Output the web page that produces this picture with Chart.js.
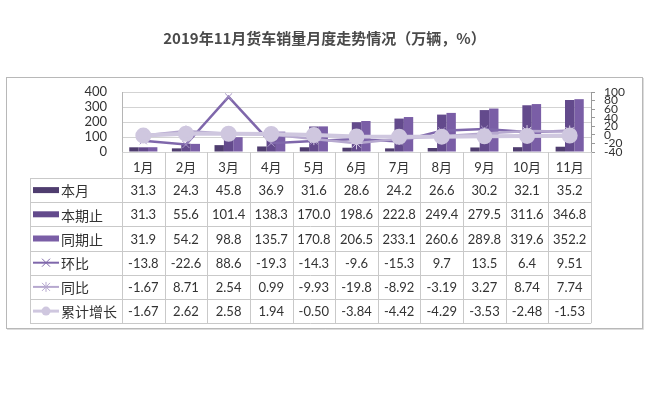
<!DOCTYPE html>
<html>
<head>
<meta charset="utf-8">
<script src="https://cdn.jsdelivr.net/npm/chart.js@4/dist/chart.umd.min.js"></script>
<style>
  body { margin: 0; background: #fff; }
</style>
</head>
<body>
<canvas id="chart" width="649" height="394"></canvas>
<script>
const months = ['1月', '2月', '3月', '4月', '5月', '6月', '7月', '8月', '9月', '10月', '11月'];

// table rows as shown, numbers parsed from them
const benyue = ['31.3', '24.3', '45.8', '36.9', '31.6', '28.6', '24.2', '26.6', '30.2', '32.1', '35.2'];
const benqizhi = ['31.3', '55.6', '101.4', '138.3', '170.0', '198.6', '222.8', '249.4', '279.5', '311.6', '346.8'];
const tongqizhi = ['31.9', '54.2', '98.8', '135.7', '170.8', '206.5', '233.1', '260.6', '289.8', '319.6', '352.2'];
const huanbi = ['-13.8', '-22.6', '88.6', '-19.3', '-14.3', '-9.6', '-15.3', '9.7', '13.5', '6.4', '9.51'];
const tongbi = ['-1.67', '8.71', '2.54', '0.99', '-9.93', '-19.8', '-8.92', '-3.19', '3.27', '8.74', '7.74'];
const leiji = ['-1.67', '2.62', '2.58', '1.94', '-0.50', '-3.84', '-4.42', '-4.29', '-3.53', '-2.48', '-1.53'];

const leftTicks = [0, 100, 200, 300, 400];
const rightTicks = [-40, -20, 0, 20, 40, 60, 80, 100];

const cBenyue = '#4f3d6f';
const cBenqi = '#634a8c';
const cTongqi = '#7a5ea6';
const cHuanbi = '#7f67ab';
const cTongbi = '#b6a8cf';
const cLeiji = '#cfc7df';

const rows = [
    { name: '本月', vals: benyue, type: 'bar', color: cBenyue },
    { name: '本期止', vals: benqizhi, type: 'bar', color: cBenqi },
    { name: '同期止', vals: tongqizhi, type: 'bar', color: cTongqi },
    { name: '环比', vals: huanbi, type: 'line', color: cHuanbi, mark: 'x' },
    { name: '同比', vals: tongbi, type: 'line', color: cTongbi, mark: 'star' },
    { name: '累计增长', vals: leiji, type: 'line', color: cLeiji, mark: 'dot' }
];

const ROW_H = 24.2;
const LABEL_ROW = 26;
const TABLE_LEFT = 30;

const tablePlugin = {
    id: 'tablePlugin',
    beforeDraw(chart) {
        const c = chart.ctx;
        c.save();
        c.fillStyle = '#fff';
        c.fillRect(0, 0, chart.width, chart.height);
        c.strokeStyle = '#b8b8b8';
        c.lineWidth = 1;
        c.strokeRect(6.5, 77.5, 636, 251);
        c.strokeStyle = '#dcdcdc';
        c.beginPath();
        c.moveTo(643.5, 78); c.lineTo(643.5, 329.5); c.lineTo(7, 329.5);
        c.stroke();
        c.restore();
    },
    afterDraw(chart) {
        const c = chart.ctx;
        const xs = chart.scales.x;
        const area = chart.chartArea;
        const colW = xs.getPixelForValue(1) - xs.getPixelForValue(0);
        const top = area.bottom + LABEL_ROW;
        const bottom = top + ROW_H * rows.length;
        c.save();
        c.strokeStyle = '#c9c9c9';
        c.lineWidth = 1;
        c.beginPath();
        for (let i = 0; i <= months.length; i++) {
            const x = Math.round(xs.getPixelForValue(0) - colW / 2 + i * colW) + 0.5;
            c.moveTo(x, area.bottom); c.lineTo(x, bottom);
        }
        for (let r = 0; r <= rows.length; r++) {
            const y = Math.round(top + r * ROW_H) + 0.5;
            c.moveTo(TABLE_LEFT, y); c.lineTo(area.right, y);
        }
        c.moveTo(TABLE_LEFT + 0.5, top); c.lineTo(TABLE_LEFT + 0.5, bottom);
        c.stroke();

        c.textBaseline = 'middle';
        rows.forEach((row, r) => {
            const cy = top + r * ROW_H + ROW_H / 2;
            // legend key
            c.fillStyle = row.color;
            c.strokeStyle = row.color;
            if (row.type === 'bar') {
                c.fillRect(33, cy - 3, 26, 6);
            } else {
                c.lineWidth = row.mark === 'dot' ? 3 : 2;
                c.beginPath(); c.moveTo(33, cy); c.lineTo(59, cy); c.stroke();
                c.lineWidth = 1;
                c.beginPath();
                if (row.mark === 'dot') {
                    c.arc(46, cy, 4.5, 0, Math.PI * 2); c.fill();
                } else {
                    c.moveTo(42, cy - 4); c.lineTo(50, cy + 4);
                    c.moveTo(42, cy + 4); c.lineTo(50, cy - 4);
                    if (row.mark === 'star') { c.moveTo(46, cy - 5); c.lineTo(46, cy + 5); }
                    c.stroke();
                }
            }
            c.fillStyle = '#333';
            c.textAlign = 'left';
            c.font = '14px "Noto Sans CJK SC"';
            c.fillText(row.name, 61, cy + 1);
            c.textAlign = 'center';
            c.font = '13px Lato';
            row.vals.forEach((v, i) => {
                c.fillText(v, xs.getPixelForValue(i), cy + 1);
            });
        });
        c.restore();
    }
};

const ctx = document.querySelector('#chart').getContext('2d');
const chart = new Chart(ctx, {
    type: 'bar',
    data: {
        labels: months,
        datasets: [
            { type: 'line', label: '累计增长', data: leiji.map(Number), yAxisID: 'y1', order: 0,
              borderColor: cLeiji, backgroundColor: cLeiji, borderWidth: 4,
              pointStyle: 'circle', pointRadius: 6, pointBackgroundColor: cLeiji, pointBorderColor: cLeiji },
            { type: 'line', label: '同比', data: tongbi.map(Number), yAxisID: 'y1', order: 1,
              borderColor: cTongbi, backgroundColor: cTongbi, borderWidth: 2.5,
              pointStyle: 'star', pointRadius: 6, pointBorderColor: '#d6cde6', pointBorderWidth: 1 },
            { type: 'line', label: '环比', data: huanbi.map(Number), yAxisID: 'y1', order: 1,
              borderColor: cHuanbi, backgroundColor: cHuanbi, borderWidth: 2.5,
              pointStyle: 'crossRot', pointRadius: 5, pointBorderColor: '#a896c6', pointBorderWidth: 1 },
            { label: '本月', data: benyue.map(Number), backgroundColor: cBenyue, order: 2 },
            { label: '本期止', data: benqizhi.map(Number), backgroundColor: cBenqi, order: 2 },
            { label: '同期止', data: tongqizhi.map(Number), backgroundColor: cTongqi, order: 2 }
        ]
    },
    options: {
        responsive: false,
        animation: false,
        categoryPercentage: 0.66,
        barPercentage: 1,
        layout: { padding: { top: 0, left: 0, right: 0, bottom: 394 - 178 } },
        plugins: {
            legend: { display: false },
            tooltip: { enabled: false },
            title: {
                display: true,
                text: '2019年11月货车销量月度走势情况（万辆，%）',
                color: '#4a4a4a',
                font: { family: '"Noto Sans CJK SC"', size: 15, weight: 'bold' },
                padding: { top: 29, bottom: 45 }
            }
        },
        scales: {
            x: {
                offset: true,
                grid: { display: false },
                border: { display: false },
                ticks: { color: '#333', font: { family: 'Lato, "Noto Sans CJK SC"', size: 13 }, padding: 0, maxRotation: 0 },
                afterFit(s) { s.height = LABEL_ROW; }
            },
            y: {
                position: 'left',
                min: 0, max: 400,
                afterBuildTicks(s) { s.ticks = leftTicks.map(v => ({ value: v })); },
                grid: { color: '#d3d3d3', drawTicks: false },
                border: { color: '#b5b5b5' },
                ticks: { color: '#333', font: { family: 'Lato', size: 13 }, padding: 15, autoSkip: false },
                afterFit(s) { s.width = 122; }
            },
            y1: {
                position: 'right',
                min: -40, max: 100,
                afterBuildTicks(s) { s.ticks = rightTicks.map(v => ({ value: v })); },
                grid: { drawOnChartArea: false, tickLength: 4, color: '#999' },
                border: { color: '#999' },
                ticks: { color: '#333', font: { family: 'Lato', size: 12 }, padding: 9, autoSkip: false },
                afterFit(s) { s.width = 58; }
            }
        }
    },
    plugins: [tablePlugin]
});
</script>
</body>
</html>
